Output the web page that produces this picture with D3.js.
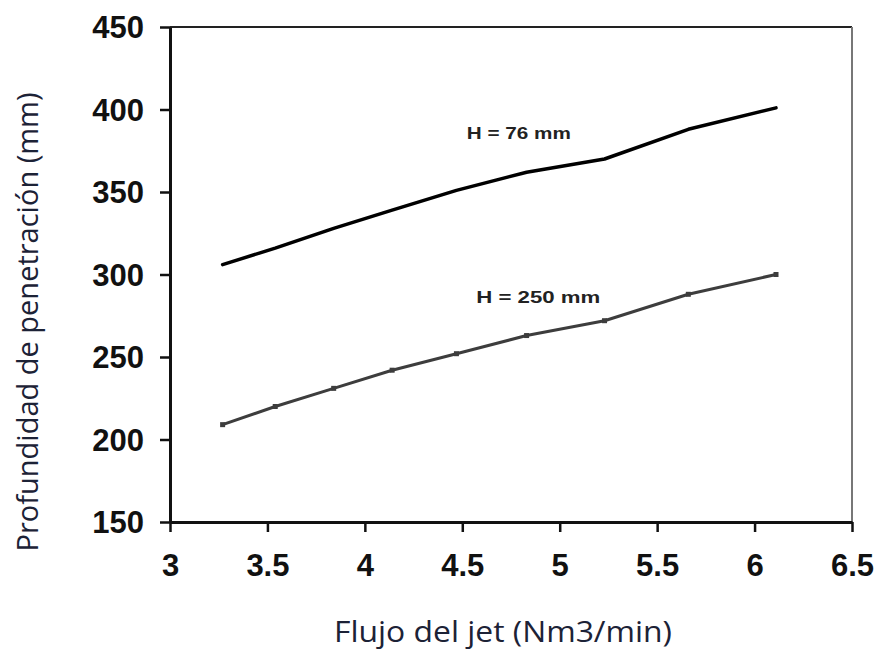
<!DOCTYPE html>
<html>
<head>
<meta charset="utf-8">
<script src="https://cdn.jsdelivr.net/npm/d3@7"></script>
<style>
  body { margin: 0; background: #fff; }
  .tick text { font-family: "Liberation Sans", Arial, sans-serif; font-weight: bold; font-size: 31px; fill: #111; }
  .axis-title { font-family: "Open Sans", "Noto Sans", sans-serif; font-size: 29px; fill: #1c2236; }
  .note { font-family: "Liberation Sans", Arial, sans-serif; font-weight: bold; font-size: 16px; fill: #222; }
</style>
</head>
<body>
<div id="chart"></div>
<script>
// Data
const flujo = [3.27, 3.54, 3.84, 4.14, 4.47, 4.83, 5.23, 5.66, 6.11];
const h76 = [306, 316, 328, 339, 351, 362, 370, 388, 401];
const h250 = [209, 220, 231, 242, 252, 263, 272, 288, 300];
const xTicks = [3, 3.5, 4, 4.5, 5, 5.5, 6, 6.5];
const yTicks = [150, 200, 250, 300, 350, 400, 450];

const width = 875, height = 653;
const margin = { top: 27, right: 23, bottom: 131, left: 170 };

const svg = d3.select('#chart')
    .append('svg')
    .attr('width', width)
    .attr('height', height);

const x = d3.scaleLinear()
    .domain([3, 6.5])
    .range([margin.left, width - margin.right]);

const y = d3.scaleLinear()
    .domain([150, 450])
    .range([height - margin.bottom, margin.top]);

// frame: top and right
svg.append('line')
    .attr('x1', x(3)).attr('x2', x(6.5))
    .attr('y1', y(450)).attr('y2', y(450))
    .attr('stroke', '#222').attr('stroke-width', 2);
svg.append('line')
    .attr('x1', x(6.5)).attr('x2', x(6.5))
    .attr('y1', y(450)).attr('y2', y(150))
    .attr('stroke', '#777').attr('stroke-width', 2);

// axes
const xAxis = svg.append('g')
    .attr('transform', `translate(0,${y(150)})`)
    .call(d3.axisBottom(x).tickValues(xTicks).tickFormat(d3.format('')).tickSize(10).tickSizeOuter(0).tickPadding(22));

const yAxis = svg.append('g')
    .attr('transform', `translate(${x(3)},0)`)
    .call(d3.axisLeft(y).tickValues(yTicks).tickSize(10).tickSizeOuter(0).tickPadding(16));

[xAxis, yAxis].forEach(g => {
    g.select('.domain').attr('stroke', '#111').attr('stroke-width', 3);
    g.selectAll('.tick line').attr('stroke', '#111').attr('stroke-width', 2.5);
});
yAxis.selectAll('.tick text').attr('dy', '0.35em');

// series
const line = d3.line()
    .x(d => x(d[0]))
    .y(d => y(d[1]));

svg.append('path')
    .datum(d3.zip(flujo, h76))
    .attr('fill', 'none')
    .attr('stroke', '#000')
    .attr('stroke-width', 3.5)
    .attr('stroke-linejoin', 'round')
    .attr('stroke-linecap', 'round')
    .attr('d', line);

svg.append('path')
    .datum(d3.zip(flujo, h250))
    .attr('fill', 'none')
    .attr('stroke', '#3d3d3d')
    .attr('stroke-width', 3)
    .attr('stroke-linejoin', 'round')
    .attr('d', line);

svg.selectAll('.marker')
    .data(d3.zip(flujo, h250))
    .enter()
    .append('rect')
    .attr('class', 'marker')
    .attr('x', d => x(d[0]) - 2.5)
    .attr('y', d => y(d[1]) - 2.5)
    .attr('width', 5)
    .attr('height', 5)
    .attr('fill', '#3d3d3d');

// annotations
svg.append('text')
    .attr('class', 'note')
    .attr('x', x(4.79))
    .attr('y', y(382))
    .attr('text-anchor', 'middle')
    .attr('textLength', 104)
    .attr('lengthAdjust', 'spacingAndGlyphs')
    .text('H = 76 mm');

svg.append('text')
    .attr('class', 'note')
    .attr('x', x(4.89))
    .attr('y', y(283))
    .attr('text-anchor', 'middle')
    .attr('textLength', 124)
    .attr('lengthAdjust', 'spacingAndGlyphs')
    .text('H = 250 mm');

// axis titles
svg.append('text')
    .attr('class', 'axis-title')
    .attr('x', 503)
    .attr('y', 642)
    .attr('text-anchor', 'middle')
    .attr('textLength', 338)
    .attr('lengthAdjust', 'spacingAndGlyphs')
    .text('Flujo del jet (Nm3/min)');

svg.append('text')
    .attr('class', 'axis-title')
    .attr('transform', 'translate(38,322) rotate(-90)')
    .attr('text-anchor', 'middle')
    .text('Profundidad de penetración (mm)');
</script>
</body>
</html>
